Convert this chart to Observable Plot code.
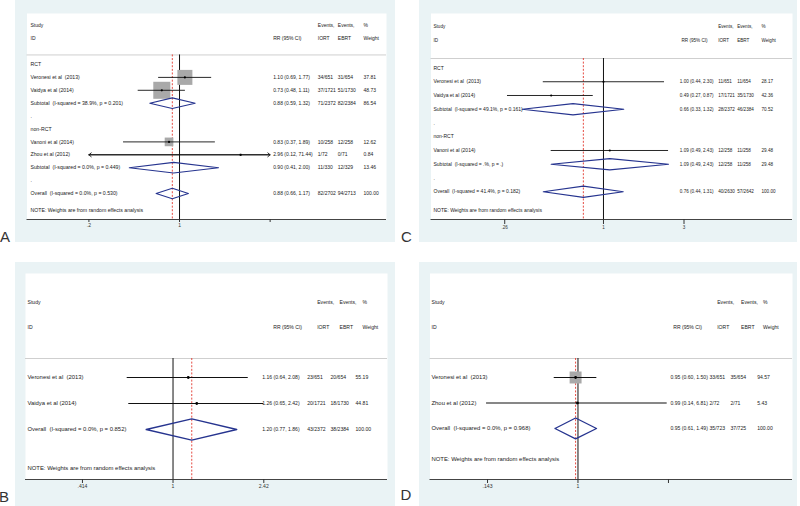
<!DOCTYPE html>
<html><head><meta charset="utf-8">
<script src="https://cdn.jsdelivr.net/npm/d3@7"></script>
<script src="https://cdn.jsdelivr.net/npm/@observablehq/plot@0.6"></script>
<style>
html,body{margin:0;padding:0;background:#fff;}
#root{position:relative;width:800px;height:506px;overflow:hidden;font-family:"Liberation Sans",Arial,sans-serif;}
.lab{position:absolute;font-size:15px;color:#333;line-height:1;}
</style></head><body><div id="root"></div>
<script>
// ---------------- DATA ----------------
const headerTop = ["Study", "", "Events,", "Events,", "%"];
const headerBottom = ["ID", "RR (95% CI)", "IORT", "EBRT", "Weight"];
const noteText = "NOTE: Weights are from random effects analysis";

// Panel A
const aLabels = ["RCT", "Veronesi et al\u00a0 (2013)", "Vaidya et al (2014)", "Subtotal\u00a0 (I-squared = 38.9%, p = 0.201)", ".", "non-RCT", "Vanoni et al (2014)", "Zhou et al (2012)", "Subtotal\u00a0 (I-squared = 0.0%, p = 0.449)", ".", "Overall\u00a0 (I-squared = 0.0%, p = 0.530)"];
const aKinds = ["group", "study", "study", "subtotal", "blank", "group", "study", "study", "subtotal", "blank", "overall"];
const aEst = [null, 1.10, 0.73, 0.88, null, null, 0.83, 2.96, 0.90, null, 0.88];
const aLo = [null, 0.69, 0.48, 0.59, null, null, 0.37, 0.12, 0.41, null, 0.66];
const aHi = [null, 1.77, 1.11, 1.32, null, null, 1.89, 71.44, 2.00, null, 1.17];
const aIORT = ["", "34/651", "37/1721", "71/2372", "", "", "10/258", "1/72", "11/330", "", "82/2702"];
const aEBRT = ["", "31/654", "51/1730", "82/2384", "", "", "12/258", "0/71", "12/329", "", "94/2713"];
const aWeight = [null, 37.81, 48.73, 86.54, null, null, 12.62, 0.84, 13.46, null, 100.00];
const aTicks = [0.2, 1, 5];
const aTickLabels = [".2", "1", "5"];

// Panel B
const bLabels = ["Veronesi et al\u00a0 (2013)", "Vaidya et al (2014)", "Overall\u00a0 (I-squared = 0.0%, p = 0.852)"];
const bKinds = ["study", "study", "overall"];
const bEst = [1.16, 1.26, 1.20];
const bLo = [0.64, 0.65, 0.77];
const bHi = [2.08, 2.42, 1.86];
const bIORT = ["23/651", "20/1721", "43/2372"];
const bEBRT = ["20/654", "18/1730", "38/2384"];
const bWeight = [55.19, 44.81, 100.00];
const bTicks = [0.414, 1, 2.42];
const bTickLabels = [".414", "1", "2.42"];

// Panel C
const cLabels = ["RCT", "Veronesi et al\u00a0 (2013)", "Vaidya et al (2014)", "Subtotal\u00a0 (I-squared = 49.1%, p = 0.161)", ".", "non-RCT", "Vanoni et al (2014)", "Subtotal\u00a0 (I-squared = .%, p = .)", ".", "Overall\u00a0 (I-squared = 41.4%, p = 0.182)"];
const cKinds = ["group", "study", "study", "subtotal", "blank", "group", "study", "subtotal", "blank", "overall"];
const cEst = [null, 1.00, 0.49, 0.66, null, null, 1.09, 1.09, null, 0.76];
const cLo = [null, 0.44, 0.27, 0.33, null, null, 0.49, 0.49, null, 0.44];
const cHi = [null, 2.30, 0.87, 1.32, null, null, 2.43, 2.43, null, 1.31];
const cIORT = ["", "11/651", "17/1721", "28/2372", "", "", "12/258", "12/258", "", "40/2630"];
const cEBRT = ["", "11/654", "35/1730", "46/2384", "", "", "11/258", "11/258", "", "57/2642"];
const cWeight = [null, 28.17, 42.36, 70.52, null, null, 29.48, 29.48, null, 100.00];
const cTicks = [0.26, 1, 3];
const cTickLabels = [".26", "1", "3"];

// Panel D
const dLabels = ["Veronesi et al\u00a0 (2013)", "Zhou et al (2012)", "Overall\u00a0 (I-squared = 0.0%, p = 0.968)"];
const dKinds = ["study", "study", "overall"];
const dEst = [0.95, 0.99, 0.95];
const dLo = [0.60, 0.14, 0.61];
const dHi = [1.50, 6.81, 1.49];
const dIORT = ["33/651", "2/72", "35/723"];
const dEBRT = ["35/654", "2/71", "37/725"];
const dWeight = [94.57, 5.43, 100.00];
const dTicks = [0.143, 1, 7];
const dTickLabels = [".143", "1", "7"];

// ---------------- LAYOUT (positions / styles) ----------------
const layout = {
  A: {left: 15, top: 0, width: 380, height: 242, mL: 11.5, mR: 9, mT: 13, mB: 23,
      xDomain: [0.0666, 39.5], yDomain: [-3.953, 12.016], fs: 5.2, fsNum: 5.0, head: [-3, -2], sep: -0.74, note: 11.32,
      dh: 0.41, boxes: true, rMax: 13.77, dotR: 1.1, sw: 0.9, dsw: 1.1, tickSize: 3, tickPad: 0.5,
      cols: {label: 3.5, rrH: 246.2, rr: 246.2, iortH: 290.8, iort: 290.8, ebrtH: 310.8, ebrt: 310.8, wH: 336.5, w: 336.5},
      letter: {x: 0, y: 229}},
  C: {left: 419, top: 0, width: 378, height: 242, mL: 11.5, mR: 5, mT: 13, mB: 23,
      xDomain: [0.0951, 13.18], yDomain: [-3.964, 11.02], fs: 5.0, fsNum: 4.6, head: [-3, -2], sep: -0.69, note: 10.36,
      dh: 0.41, boxes: false, rMax: 10, dotR: 1.1, sw: 0.9, dsw: 1.1, tickSize: 5, tickPad: 1.5,
      cols: {label: 2.5, rrH: 250.5, rr: 248.8, iortH: 287.2, iort: 287.2, ebrtH: 306.2, ebrt: 306.2, wH: 330.5, w: 330.5},
      letter: {x: 401, y: 228.5}},
  B: {left: 15, top: 262, width: 380, height: 244, mL: 10, mR: 8, mT: 11, mB: 27,
      xDomain: [0.2378, 8.07], yDomain: [-4.0, 3.923], fs: 5.9, fsNum: 5.1, head: [-2.9, -1.93], sep: -0.73, note: 3.5,
      dh: 0.41, boxes: false, rMax: 10, dotR: 1.4, sw: 1.1, dsw: 1.3, tickSize: 4, tickPad: 1,
      cols: {label: 2, rrH: 247.7, rr: 236.7, iortH: 291.7, iort: 281.7, ebrtH: 314, ebrt: 305, wH: 337, w: 330},
      letter: {x: -1, y: 489}},
  D: {left: 419, top: 262, width: 378, height: 244, mL: 10.5, mR: 5, mT: 11, mB: 27,
      xDomain: [0.0415, 100.8], yDomain: [-4.078, 4.0], fs: 5.9, fsNum: 5.1, head: [-2.94, -1.96], sep: -0.745, note: 3.22,
      dh: 0.41, boxes: true, rMax: 6.94, dotR: 1.4, sw: 1.1, dsw: 1.3, tickSize: 4, tickPad: 1,
      cols: {label: 1.5, rrH: 243.2, rr: 240.5, iortH: 287.2, iort: 279.5, ebrtH: 311, ebrt: 300.5, wH: 333, w: 327.2},
      letter: {x: 400.5, y: 487}}
};

const panels = {
  A: {labels: aLabels, kinds: aKinds, est: aEst, lo: aLo, hi: aHi, iort: aIORT, ebrt: aEBRT, weight: aWeight, ticks: aTicks, tickLabels: aTickLabels},
  B: {labels: bLabels, kinds: bKinds, est: bEst, lo: bLo, hi: bHi, iort: bIORT, ebrt: bEBRT, weight: bWeight, ticks: bTicks, tickLabels: bTickLabels},
  C: {labels: cLabels, kinds: cKinds, est: cEst, lo: cLo, hi: cHi, iort: cIORT, ebrt: cEBRT, weight: cWeight, ticks: cTicks, tickLabels: cTickLabels},
  D: {labels: dLabels, kinds: dKinds, est: dEst, lo: dLo, hi: dHi, iort: dIORT, ebrt: dEBRT, weight: dWeight, ticks: dTicks, tickLabels: dTickLabels}
};

const root = document.getElementById("root");
const fmt = v => v.toFixed(2);

function drawPanel(letter) {
  const d = panels[letter], L = layout[letter], C = L.cols;
  const rows = d.labels.map((label, i) => {
    const r = {row: i, label, kind: d.kinds[i], est: d.est[i], lo: d.lo[i], hi: d.hi[i], iort: d.iort[i], ebrt: d.ebrt[i], weight: d.weight[i]};
    if (r.est != null) { r.rr = `${fmt(r.est)} (${fmt(r.lo)}, ${fmt(r.hi)})`; r.w = fmt(r.weight); }
    return r;
  });
  const withEst = rows.filter(r => r.est != null);
  const tMin = d3.min(d.ticks), tMax = d3.max(d.ticks);
  const studies = rows.filter(r => r.kind === "study").map(r => {
    const clipLo = r.lo < tMin * 0.97, clipHi = r.hi > tMax * 1.03;
    return {...r, lo2: clipLo ? tMin : r.lo, hi2: clipHi ? tMax : r.hi, clipLo, clipHi};
  });
  const arrows = [];
  studies.forEach(s => {
    if (s.clipLo) arrows.push({row: s.row, x1: s.est, x2: tMin});
    if (s.clipHi) arrows.push({row: s.row, x1: s.est, x2: tMax});
  });
  const pooled = rows.filter(r => r.kind === "subtotal" || r.kind === "overall");
  const h = L.dh;
  const diamonds = pooled.flatMap(r => [
    {id: r.row, x: r.lo, y: r.row}, {id: r.row, x: r.est, y: r.row - h},
    {id: r.row, x: r.hi, y: r.row}, {id: r.row, x: r.est, y: r.row + h},
    {id: r.row, x: r.lo, y: r.row}]);
  const overall = rows.find(r => r.kind === "overall");
  const yBottom = L.yDomain[1];
  const txt = {fontSize: L.fs, fill: "#222", frameAnchor: "left", textAnchor: "start"};
  const num = {...txt, fontSize: L.fsNum};
  const head = (i, dx) => Plot.text(
    [{row: L.head[0], t: headerTop[i]}, {row: L.head[1], t: headerBottom[i]}].filter(e => e.t),
    {y: "row", text: "t", dx, ...num});

  const marks = [
    Plot.frame({fill: "white", stroke: "none"}),
    Plot.ruleY([L.sep], {stroke: "#cfcfcf", strokeWidth: 1}),
    Plot.ruleX([1], {y1: L.sep, y2: yBottom, stroke: "#111", strokeWidth: 1}),
    Plot.ruleX([overall.est], {y1: L.sep, y2: yBottom, stroke: "#e2372c", strokeWidth: 0.9, strokeDasharray: "2,1.6"}),
    L.boxes ? Plot.dot(studies, {x: "est", y: "row", r: "weight", symbol: "square", fill: "#a9a9a9", stroke: "none"}) : null,
    Plot.ruleY(studies, {y: "row", x1: "lo2", x2: "hi2", stroke: "#111", strokeWidth: L.sw}),
    Plot.arrow(arrows, {x1: "x1", y1: "row", x2: "x2", y2: "row", stroke: "#111", strokeWidth: L.sw, headLength: 5, headAngle: 80}),
    Plot.dot(studies, {x: "est", y: "row", r: L.dotR, fill: "#000", stroke: "none"}),
    Plot.line(diamonds, {x: "x", y: "y", z: "id", stroke: "#26348f", strokeWidth: L.dsw, curve: "linear"}),
    Plot.ruleY([yBottom], {stroke: "#444", strokeWidth: 1}),
    Plot.axisX({ticks: d.ticks, tickFormat: v => d.tickLabels[d.ticks.indexOf(v)], tickSize: L.tickSize, tickPadding: L.tickPad,
                fontSize: L.fsNum, anchor: "bottom", label: null, color: "#333"}),
    // text columns
    head(0, C.label), head(1, C.rrH), head(2, C.iortH), head(3, C.ebrtH), head(4, C.wH),
    Plot.text(rows, {y: "row", text: "label", dx: C.label, ...txt}),
    Plot.text(withEst, {y: "row", text: "rr", dx: C.rr, ...num}),
    Plot.text(withEst, {y: "row", text: "iort", dx: C.iort, ...num}),
    Plot.text(withEst, {y: "row", text: "ebrt", dx: C.ebrt, ...num}),
    Plot.text(withEst, {y: "row", text: "w", dx: C.w, ...num}),
    Plot.text([{row: L.note, t: noteText}], {y: "row", text: "t", dx: C.label, ...txt})
  ].filter(Boolean);

  const svg = Plot.plot({
    width: L.width, height: L.height,
    marginLeft: L.mL, marginRight: L.mR, marginTop: L.mT, marginBottom: L.mB,
    x: {type: "log", domain: L.xDomain, label: null},
    y: {domain: L.yDomain, reverse: true, axis: null, label: null},
    r: {type: "sqrt", domain: [0, 100], range: [0, L.rMax]},
    style: {background: "#eaf3f5", fontFamily: "'Liberation Sans', Arial, sans-serif", overflow: "visible"},
    marks
  });
  svg.style.position = "absolute";
  svg.style.left = L.left + "px";
  svg.style.top = L.top + "px";
  root.appendChild(svg);

  const lab = document.createElement("div");
  lab.className = "lab";
  lab.textContent = letter;
  lab.style.left = L.letter.x + "px";
  lab.style.top = L.letter.y + "px";
  root.appendChild(lab);
}

["A", "C", "B", "D"].forEach(drawPanel);
</script>
</body></html>
